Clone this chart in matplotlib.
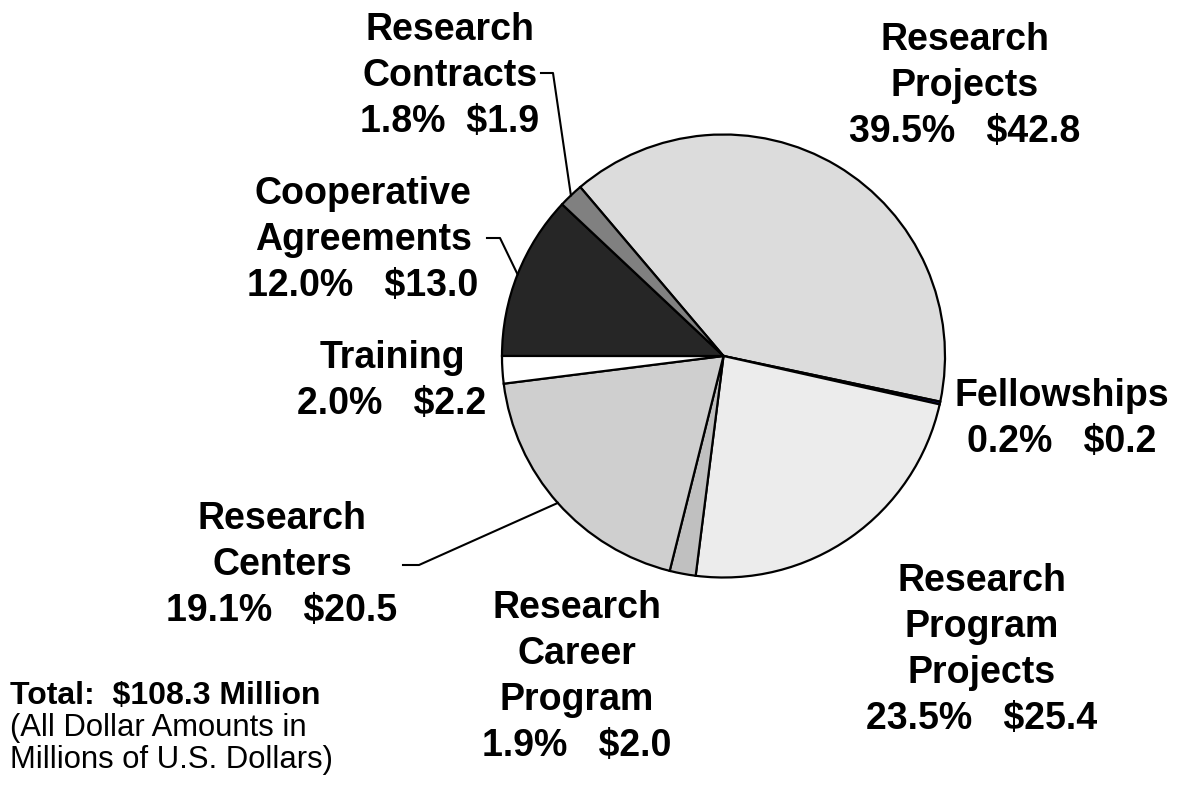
import numpy as np
import matplotlib
matplotlib.use('Agg')
from matplotlib import pyplot as plt

# data, clockwise from the top-left of the pie
names = ['Research\nProjects', 'Fellowships', 'Research\nProgram\nProjects',
         'Research\nCareer\nProgram', 'Research\nCenters', 'Training',
         'Cooperative\nAgreements', 'Research\nContracts']
percents = [39.5, 0.2, 23.5, 1.9, 19.1, 2.0, 12.0, 1.8]
dollars = ['42.8', '0.2', '25.4', '2.0', '20.5', '2.2', '13.0', '1.9']
gaps = ['   ', '   ', '   ', '   ', '   ', '   ', '   ', '  ']
colors = ['#dcdcdc', '#1c1c8c', '#ececec', '#c0c0c0', '#cfcfcf', '#ffffff',
          '#262626', '#808080']

plt.rcParams['font.family'] = ['Liberation Sans', 'DejaVu Sans']

fig = plt.figure(figsize=(11.79, 7.88), dpi=100)
ax = fig.add_axes([0, 0, 1, 1])

cx, cy, r = 723.5, 788 - 356, 221.5
wedges, _ = ax.pie(percents, colors=colors, startangle=130.3, counterclock=False,
                   center=(cx, cy), radius=r, frame=True,
                   wedgeprops=dict(edgecolor='black', linewidth=1.6))
ax.set_xlim(0, 1179)
ax.set_ylim(0, 788)
ax.set_aspect('auto')
ax.axis('off')

# label centres in pixel coords (x, y from top)
label_pos = [(965, 86), (1062, 419), (982, 650), (577, 677), (282, 565),
             (392, 381), (363, 240), (450, 76)]
for name, p, d, g, (lx, ly) in zip(names, percents, dollars, gaps, label_pos):
    ax.text(lx, 788 - ly, f'{name}\n{p:.1f}%{g}${d}', ha='center', va='center',
            fontsize=27, fontweight='bold', linespacing=1.36)


def edge_point(w):
    mid = np.deg2rad((w.theta1 + w.theta2) / 2)
    return cx + r * np.cos(mid), cy + r * np.sin(mid)


# leader lines: (wedge index, start x, elbow x, y from top)
leaders = [(7, 541, 553, 73), (6, 487, 500, 238), (4, 403, 419, 565)]
for i, x0, x1, y in leaders:
    ex, ey = edge_point(wedges[i])
    ax.plot([x0, x1, ex], [788 - y, 788 - y, ey], color='black', lw=1.5)

ax.text(10, 788 - 696, 'Total:  $108.3 Million', fontsize=23, fontweight='bold',
        va='center', ha='left')
ax.text(10, 788 - 744, '(All Dollar Amounts in\nMillions of U.S. Dollars)',
        fontsize=22.3, va='center', ha='left', linespacing=1.13)

fig.savefig('out.png', dpi=100)
